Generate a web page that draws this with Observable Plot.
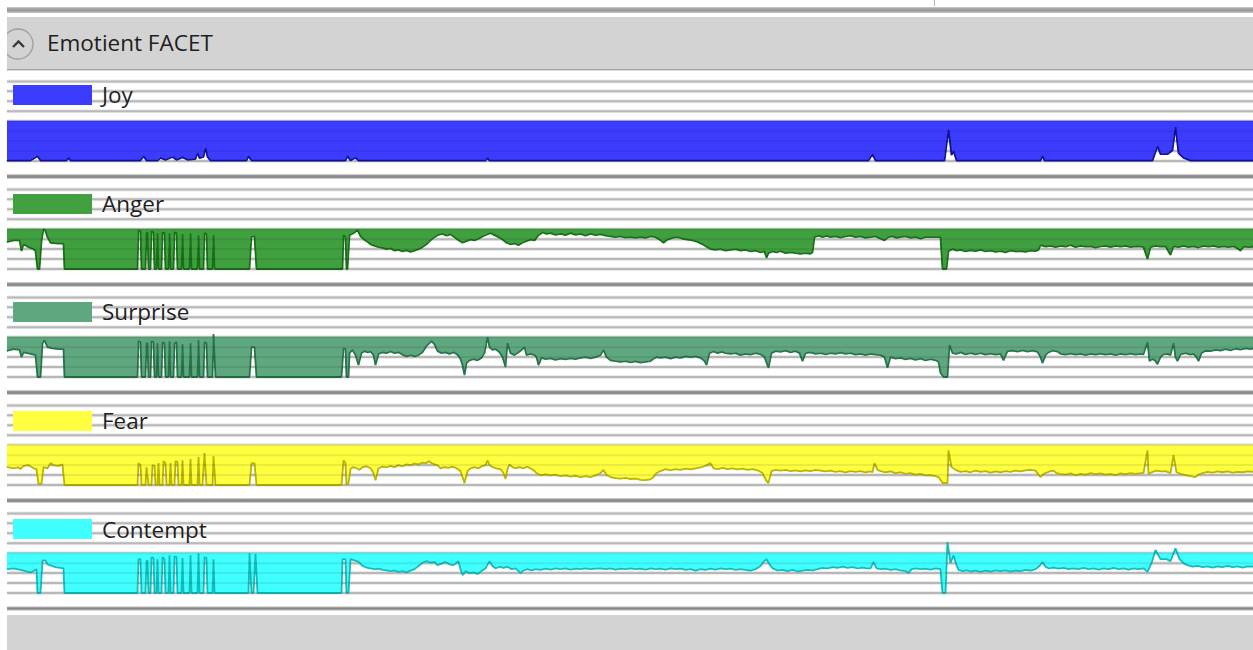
<!DOCTYPE html>
<html><head><meta charset="utf-8">
<script src="https://cdn.jsdelivr.net/npm/d3@7"></script>
<script src="https://cdn.jsdelivr.net/npm/@observablehq/plot@0.6"></script>
<style>
body{margin:0;background:#fff;font-family:"Open Sans","Noto Sans",sans-serif;color:#1e1e1e;}
#page{position:relative;width:1253px;height:650px;overflow:hidden;background:#fff;}
#topline{position:absolute;left:7px;top:7px;width:1246px;height:6px;background:linear-gradient(#cfcfcf,#9c9c9c 35%,#9c9c9c 65%,#cfcfcf);}
#vline{position:absolute;left:934px;top:0;width:1px;height:6px;background:#b8b8b8;}
#header{position:absolute;left:7px;top:17px;width:1246px;height:52px;background:#d3d3d3;z-index:3;overflow:hidden;}
#header svg{position:absolute;left:0;top:0;}
#title{position:absolute;left:40px;top:15.3px;font-size:22.5px;line-height:1;white-space:nowrap;color:#1e1e1e;}
#chart{position:absolute;left:7px;top:66px;}
#legend{position:absolute;left:0;top:0;z-index:2;}
.sw{position:absolute;left:13px;width:79px;height:20px;}
.lb{position:absolute;left:102px;font-size:22.5px;line-height:1;white-space:nowrap;color:#1e1e1e;}
#footer{position:absolute;left:7px;top:615px;width:1246px;height:35px;background:#d3d3d3;}
</style></head>
<body><div id="page">
<div id="vline"></div>
<div id="topline"></div>
<div id="header">
<svg width="60" height="52"><circle cx="11" cy="27" r="15" fill="none" stroke="#9e9e9e" stroke-width="1.3"/><polyline points="6,30 11.5,24.5 17,30" fill="none" stroke="#3a3a3a" stroke-width="2.4"/></svg>
<div id="title">Emotient FACET</div>
</div>
<div id="chart"></div>
<div id="legend"></div>
<div id="footer"></div>
</div>
<script>
// ---- data ----
const emotions = ["Joy", "Anger", "Surprise", "Fear", "Contempt"];
const fillColors = ["#3c3cff", "#40a040", "#5fa77e", "#ffff40", "#40ffff"];
const lineColors = ["#12129c", "#197019", "#27744a", "#b9b500", "#12bcbc"];
const timeDomain = [7, 1253];
const valueDomain = [-0.39, 2.325];
const gridLevels = [0, 0.25, 0.5, 0.75, 1, 1.25, 1.5, 1.75, 2];
const bandTop = 1;

const joy = [[7,0.01],[30,0.01],[37,0.12],[40,0.01],[66,0.01],[68,0.08],[70,0.01],[140,0.01],[143,0.12],[146,0.01],[157,0.01],[160,0.08],[165,0.03],[172,0.1],[176,0.03],[182,0.09],[187,0.03],[195,0.05],[197,0.2],[199,0.07],[203,0.1],[205,0.33],[207,0.1],[210,0.01],[246,0.01],[248,0.12],[251,0.01],[345,0.01],[347,0.12],[350,0.01],[355,0.08],[358,0.01],[485,0.01],[487,0.07],[489,0.01],[868,0.01],[872,0.17],[875,0.01],[944,0.01],[948,0.78],[951,0.15],[953,0.25],[956,0.01],[1040,0.01],[1042,0.12],[1044,0.01],[1152,0.01],[1157,0.37],[1160,0.17],[1167,0.17],[1172,0.27],[1175,0.85],[1178,0.2],[1183,0.08],[1187,0.04],[1190,0.01],[1253,0.01]];

const anger = [[7,0.68],[13,0.72],[19,0.72],[21,0.45],[23,0.62],[28,0.55],[33,0.5],[35,0.45],[37,0],[39,0],[41,0.7],[43,1.0],[45,0.95],[47,0.8],[50,0.66],[58,0.64],[63,0.64],[64,0],[137,0],[138,0.97],[140,0.95],[141,0],[145,0],[146,0.9],[147,0.92],[148,0],[150,0],[151,0.95],[153,0.92],[154,0],[156,0],[157,0.9],[158,0],[161,0],[162,0.92],[164,0.9],[165,0],[168,0],[169,0.9],[170,0],[173,0],[174,0.92],[176,0.9],[177,0],[181,0],[182,0.88],[183,0],[189,0],[190,0.9],[191,0],[197,0],[198,0.85],[199,0],[203,0],[204,0.9],[206,0.88],[207,0],[212,0],[213,0.85],[214,0],[249,0],[251,0.82],[254,0.82],[256,0],[342,0],[343,0.85],[345,0.8],[346,0],[347,0],
[349,0.85],[353,0.9],[357,0.98],[360,0.82],[363,0.75],[366,0.7],[370,0.62],[374,0.58],[378,0.55],[382,0.53],[386,0.5],[390,0.52],[394,0.46],[398,0.48],[402,0.44],[406,0.47],[410,0.43],[414,0.46],[418,0.5],[422,0.55],[426,0.62],[430,0.72],[434,0.8],[438,0.86],[442,0.88],[446,0.84],[450,0.87],[454,0.8],[458,0.72],[462,0.66],[466,0.7],[470,0.74],[474,0.72],[478,0.76],[482,0.82],[486,0.86],[490,0.9],[494,0.85],[498,0.8],[502,0.74],[506,0.66],[510,0.62],[514,0.64],[518,0.6],[522,0.66],[526,0.7],[530,0.74],[534,0.72],[538,0.85],[542,0.92],[546,0.88],[550,0.9],[555,0.86],[560,0.88],[565,0.85],[570,0.9],[575,0.86],[580,0.88],[585,0.84],[590,0.88],[595,0.85],[600,0.87],[605,0.84],[610,0.82],[615,0.8],[620,0.82],[625,0.79],[630,0.8],[635,0.78],[640,0.8],[645,0.78],[650,0.82],[655,0.8],[660,0.72],[663,0.66],[667,0.74],[672,0.78],[677,0.8],[682,0.76],[687,0.74],[692,0.72],[697,0.68],[702,0.62],[706,0.56],[710,0.5],[715,0.48],[720,0.5],[725,0.46],[730,0.48],[735,0.5],[740,0.46],[745,0.48],[750,0.44],[755,0.46],[760,0.42],[764,0.44],[766,0.28],[768,0.4],[772,0.44],[776,0.42],[780,0.45],[785,0.4],[790,0.42],[795,0.4],[800,0.38],[805,0.4],[810,0.38],[812,0.42],[814,0.8],[818,0.84],[822,0.8],[826,0.83],[830,0.8],[835,0.82],[840,0.79],[845,0.82],[850,0.84],[855,0.8],[860,0.82],[865,0.78],[870,0.8],[875,0.82],[880,0.76],[884,0.72],[888,0.8],[892,0.82],[896,0.78],[900,0.8],[905,0.82],[910,0.78],[915,0.8],[920,0.76],[925,0.8],[930,0.8],[935,0.8],[940,0.8],[942,0],[946,0],[948,0.45],[952,0.5],[956,0.46],[960,0.48],[965,0.44],[970,0.47],[975,0.45],[980,0.48],[985,0.44],[990,0.46],[995,0.43],[1000,0.45],[1005,0.42],[1010,0.46],[1015,0.44],[1020,0.45],[1025,0.43],[1030,0.46],[1035,0.45],[1038,0.48],[1040,0.6],[1045,0.56],[1050,0.58],[1055,0.55],[1060,0.58],[1065,0.56],[1070,0.6],[1075,0.55],[1080,0.58],[1085,0.56],[1090,0.57],[1095,0.54],[1100,0.57],[1105,0.58],[1110,0.55],[1115,0.58],[1120,0.56],[1125,0.58],[1130,0.55],[1135,0.57],[1140,0.56],[1143,0.55],[1147,0.25],[1150,0.55],[1155,0.58],[1160,0.56],[1165,0.57],[1170,0.35],[1173,0.57],[1178,0.55],[1183,0.58],[1188,0.55],[1193,0.57],[1198,0.54],[1203,0.58],[1208,0.56],[1213,0.58],[1218,0.55],[1223,0.57],[1228,0.55],[1233,0.57],[1238,0.5],[1240,0.46],[1243,0.56],[1248,0.55],[1253,0.56]];

const surprise = [[7,0.66],[13,0.7],[19,0.68],[21,0.5],[23,0.62],[30,0.58],[35,0.55],[37,0],[40,0],[42,0.85],[44,0.92],[47,0.75],[52,0.72],[58,0.7],[63,0.7],[64,0],[137,0],[138,0.9],[140,0.88],[141,0],[145,0],[146,0.85],[147,0.85],[148,0],[150,0],[151,0.9],[153,0.88],[154,0],[156,0],[157,0.85],[158,0],[161,0],[162,0.88],[164,0.85],[165,0],[168,0],[169,0.9],[170,0],[173,0],[174,0.85],[176,0.88],[177,0],[181,0],[182,0.82],[183,0],[189,0],[190,0.85],[191,0],[197,0],[198,0.92],[199,0],[203,0],[204,0.88],[206,0.85],[207,0],[212,0],[213,1.08],[215,0],[249,0],[251,0.75],[254,0.75],[256,0],[341,0],[343,0.72],[345,0.7],[346,0],[348,0],
[349,0.6],[352,0.68],[355,0.55],[358,0.3],[361,0.6],[364,0.65],[367,0.62],[370,0.64],[373,0.55],[375,0.3],[378,0.58],[382,0.62],[386,0.6],[390,0.64],[394,0.6],[398,0.62],[402,0.56],[406,0.52],[410,0.55],[414,0.52],[418,0.55],[422,0.62],[426,0.78],[429,0.85],[431,0.9],[434,0.82],[437,0.65],[441,0.6],[445,0.62],[449,0.58],[453,0.62],[457,0.56],[460,0.45],[462,0.3],[464,0.05],[466,0.35],[469,0.42],[473,0.45],[477,0.42],[481,0.48],[484,0.6],[487,1.0],[489,0.75],[492,0.68],[495,0.7],[499,0.62],[502,0.5],[505,0.25],[507,0.85],[510,0.6],[514,0.55],[518,0.62],[521,0.68],[524,0.75],[526,0.55],[530,0.58],[534,0.55],[536,0.5],[538,0.3],[541,0.48],[545,0.45],[550,0.47],[555,0.43],[560,0.46],[565,0.44],[570,0.47],[575,0.45],[580,0.48],[585,0.5],[590,0.47],[595,0.5],[600,0.55],[603,0.68],[606,0.5],[610,0.42],[615,0.4],[620,0.38],[625,0.4],[630,0.37],[635,0.39],[640,0.36],[645,0.38],[650,0.4],[653,0.46],[656,0.5],[660,0.48],[665,0.5],[670,0.46],[675,0.5],[680,0.48],[685,0.52],[690,0.5],[695,0.52],[700,0.48],[704,0.4],[706,0.3],[709,0.6],[713,0.64],[717,0.6],[721,0.63],[725,0.6],[730,0.58],[735,0.6],[740,0.55],[745,0.58],[750,0.56],[755,0.6],[760,0.57],[764,0.5],[768,0.23],[771,0.6],[775,0.65],[780,0.63],[785,0.66],[790,0.62],[795,0.65],[799,0.6],[802,0.4],[805,0.6],[810,0.62],[815,0.58],[820,0.6],[825,0.57],[830,0.6],[835,0.58],[840,0.61],[845,0.58],[850,0.6],[855,0.56],[860,0.58],[865,0.55],[870,0.58],[875,0.56],[880,0.55],[884,0.5],[887,0.23],[890,0.5],[895,0.46],[900,0.48],[905,0.44],[910,0.47],[915,0.43],[920,0.46],[925,0.42],[930,0.45],[935,0.42],[938,0.38],[940,0.1],[943,0],[947,0],[949,0.8],[952,0.6],[956,0.58],[960,0.62],[965,0.57],[970,0.6],[975,0.57],[980,0.6],[985,0.56],[990,0.59],[995,0.56],[1000,0.58],[1003,0.42],[1007,0.65],[1012,0.66],[1017,0.64],[1022,0.67],[1027,0.64],[1032,0.66],[1037,0.63],[1040,0.5],[1042,0.35],[1045,0.55],[1048,0.62],[1052,0.66],[1057,0.64],[1060,0.58],[1065,0.56],[1070,0.59],[1075,0.56],[1080,0.58],[1085,0.55],[1090,0.58],[1095,0.56],[1100,0.59],[1105,0.56],[1110,0.58],[1115,0.55],[1120,0.58],[1125,0.56],[1130,0.59],[1135,0.56],[1140,0.58],[1143,0.57],[1147,0.88],[1149,0.4],[1152,0.45],[1155,0.4],[1157,0.32],[1160,0.5],[1163,0.57],[1167,0.58],[1170,0.55],[1173,0.85],[1175,0.5],[1177,0.4],[1180,0.57],[1185,0.6],[1190,0.56],[1193,0.58],[1196,0.5],[1198,0.4],[1201,0.6],[1205,0.66],[1210,0.65],[1215,0.68],[1220,0.66],[1225,0.7],[1230,0.67],[1235,0.71],[1240,0.69],[1245,0.72],[1250,0.7],[1253,0.72]];

const fear = [[7,0.45],[13,0.42],[18,0.44],[20,0.4],[23,0.48],[28,0.5],[33,0.42],[36,0.4],[38,0.03],[41,0.03],[43,0.45],[47,0.42],[50,0.55],[53,0.5],[58,0.48],[62,0.52],[64,0],[137,0],[138,0.55],[140,0.5],[141,0],[145,0],[146,0.45],[148,0],[151,0],[152,0.5],[154,0.48],[155,0],[157,0],[158,0.55],[159,0],[162,0],[163,0.6],[165,0.55],[166,0],[169,0],[170,0.55],[171,0],[174,0],[175,0.6],[177,0.58],[178,0],[181,0],[182,0.62],[183,0],[189,0],[190,0.65],[191,0],[197,0],[198,0.7],[199,0],[202,0],[204,0.8],[206,0],[212,0],[213,0.72],[215,0],[249,0],[251,0.55],[254,0.55],[256,0],[341,0],[343,0.62],[345,0.55],[346,0],
[348,0.05],[350,0.4],[353,0.45],[356,0.42],[359,0.38],[362,0.45],[366,0.47],[370,0.42],[373,0.3],[375,0.12],[378,0.42],[382,0.46],[386,0.44],[390,0.48],[394,0.45],[398,0.5],[402,0.47],[406,0.52],[410,0.5],[414,0.54],[418,0.52],[422,0.56],[426,0.55],[428,0.6],[431,0.55],[434,0.52],[437,0.5],[440,0.42],[444,0.45],[448,0.43],[452,0.46],[456,0.42],[460,0.35],[464,0.05],[467,0.35],[470,0.42],[474,0.45],[478,0.42],[482,0.48],[485,0.5],[487,0.62],[489,0.5],[492,0.45],[496,0.42],[500,0.4],[503,0.3],[505,0.15],[507,0.4],[509,0.52],[512,0.45],[515,0.42],[519,0.45],[523,0.42],[527,0.46],[531,0.4],[534,0.35],[537,0.28],[541,0.25],[545,0.27],[550,0.24],[555,0.26],[560,0.22],[565,0.24],[570,0.21],[575,0.23],[580,0.2],[585,0.22],[590,0.2],[595,0.24],[600,0.3],[603,0.38],[606,0.25],[610,0.2],[615,0.17],[620,0.16],[625,0.18],[630,0.15],[635,0.16],[640,0.13],[645,0.12],[650,0.14],[653,0.2],[656,0.3],[660,0.35],[665,0.4],[670,0.37],[675,0.4],[680,0.38],[685,0.41],[690,0.39],[695,0.42],[700,0.44],[705,0.48],[710,0.55],[713,0.42],[717,0.4],[722,0.43],[727,0.4],[732,0.42],[737,0.39],[742,0.41],[747,0.38],[752,0.4],[757,0.37],[762,0.3],[766,0.1],[768,0.05],[771,0.35],[775,0.38],[780,0.36],[785,0.38],[790,0.35],[795,0.37],[800,0.34],[805,0.37],[810,0.35],[815,0.38],[820,0.36],[825,0.34],[830,0.36],[835,0.33],[840,0.35],[845,0.32],[850,0.35],[855,0.33],[860,0.35],[865,0.32],[870,0.34],[872,0.32],[874,0.55],[877,0.38],[880,0.35],[885,0.32],[890,0.34],[895,0.3],[900,0.32],[905,0.28],[910,0.3],[915,0.26],[920,0.28],[925,0.24],[930,0.25],[935,0.22],[938,0.2],[942,0.05],[947,0.05],[948,0.87],[951,0.45],[955,0.38],[960,0.33],[965,0.35],[970,0.32],[975,0.36],[980,0.33],[985,0.35],[990,0.31],[995,0.34],[1000,0.32],[1005,0.35],[1010,0.33],[1015,0.36],[1020,0.34],[1025,0.37],[1030,0.38],[1035,0.36],[1040,0.2],[1043,0.28],[1047,0.32],[1050,0.35],[1053,0.36],[1056,0.3],[1060,0.28],[1065,0.26],[1070,0.29],[1075,0.25],[1080,0.28],[1085,0.26],[1090,0.3],[1095,0.27],[1100,0.29],[1105,0.26],[1110,0.28],[1115,0.25],[1120,0.29],[1125,0.27],[1130,0.3],[1135,0.28],[1140,0.3],[1143,0.3],[1147,0.87],[1148,0.28],[1152,0.33],[1156,0.36],[1160,0.34],[1165,0.35],[1170,0.3],[1173,0.75],[1176,0.32],[1180,0.28],[1185,0.25],[1190,0.22],[1195,0.2],[1198,0.26],[1202,0.3],[1207,0.33],[1212,0.31],[1217,0.34],[1222,0.32],[1227,0.34],[1232,0.31],[1237,0.33],[1242,0.32],[1247,0.34],[1253,0.33]];

const contempt = [[7,0.6],[13,0.62],[20,0.58],[25,0.55],[30,0.52],[33,0.55],[36,0.6],[37,0],[40,0],[42,0.82],[45,0.82],[47,0.72],[55,0.65],[63,0.62],[64,0],[137,0],[138,0.85],[140,0.85],[141,0],[145,0],[146,0.8],[147,0.82],[148,0],[150,0],[151,0.9],[153,0.88],[154,0],[156,0],[157,0.85],[158,0],[161,0],[162,0.9],[164,0.85],[165,0],[168,0],[169,0.95],[170,0],[173,0],[174,0.92],[176,0.9],[177,0],[181,0],[182,0.88],[183,0],[189,0],[190,0.95],[191,0],[197,0],[198,1.0],[199,0],[203,0],[204,0.9],[206,0.88],[207,0],[212,0],[213,0.85],[214,0],[248,0],[249,1.0],[251,0],[253,0],[255,0.98],[257,0],[341,0],[342,0.85],[345,0.85],[346,0],[348,0],
[350,0.85],[354,0.82],[358,0.78],[362,0.68],[366,0.64],[370,0.62],[374,0.6],[378,0.61],[382,0.58],[386,0.57],[390,0.55],[394,0.56],[398,0.53],[402,0.55],[406,0.52],[410,0.56],[414,0.6],[418,0.68],[422,0.76],[426,0.8],[430,0.76],[434,0.78],[437,0.7],[441,0.74],[445,0.78],[449,0.72],[453,0.7],[456,0.76],[458,0.8],[460,0.6],[462,0.45],[465,0.55],[469,0.5],[473,0.52],[477,0.48],[481,0.55],[485,0.62],[489,0.8],[492,0.68],[495,0.62],[499,0.66],[503,0.63],[507,0.66],[511,0.6],[515,0.62],[518,0.55],[520,0.5],[523,0.57],[527,0.6],[531,0.57],[535,0.6],[540,0.58],[545,0.61],[550,0.59],[555,0.62],[560,0.6],[565,0.62],[570,0.59],[575,0.61],[580,0.6],[585,0.62],[590,0.6],[595,0.61],[600,0.62],[605,0.6],[610,0.62],[615,0.59],[620,0.61],[625,0.6],[630,0.62],[635,0.6],[640,0.61],[645,0.59],[650,0.62],[655,0.6],[660,0.61],[665,0.59],[670,0.62],[675,0.6],[680,0.61],[685,0.58],[690,0.6],[695,0.56],[700,0.6],[705,0.58],[710,0.61],[715,0.59],[720,0.62],[725,0.6],[730,0.61],[735,0.58],[740,0.6],[745,0.58],[750,0.56],[755,0.6],[760,0.68],[763,0.78],[766,0.85],[769,0.72],[772,0.62],[777,0.57],[782,0.58],[787,0.55],[792,0.58],[797,0.54],[802,0.56],[807,0.58],[812,0.57],[817,0.6],[822,0.63],[827,0.62],[832,0.65],[837,0.63],[842,0.66],[847,0.63],[852,0.65],[857,0.62],[862,0.64],[867,0.62],[870,0.62],[873,0.78],[876,0.62],[880,0.6],[885,0.61],[890,0.58],[895,0.6],[900,0.57],[905,0.55],[908,0.5],[911,0.6],[915,0.62],[920,0.6],[925,0.61],[930,0.59],[935,0.62],[940,0.6],[942,0],[945,0],[947,1.28],[950,0.75],[953,0.95],[956,0.7],[958,0.58],[962,0.55],[966,0.57],[970,0.54],[975,0.56],[980,0.53],[985,0.56],[990,0.54],[995,0.57],[1000,0.55],[1005,0.57],[1010,0.54],[1015,0.56],[1020,0.55],[1025,0.58],[1030,0.56],[1035,0.6],[1039,0.68],[1042,0.78],[1045,0.66],[1048,0.62],[1053,0.64],[1058,0.61],[1063,0.63],[1068,0.6],[1073,0.62],[1078,0.6],[1083,0.63],[1088,0.6],[1093,0.62],[1098,0.59],[1103,0.62],[1108,0.6],[1113,0.63],[1118,0.6],[1123,0.62],[1128,0.59],[1133,0.62],[1138,0.6],[1143,0.62],[1147,0.53],[1151,0.75],[1155,1.08],[1160,0.85],[1166,0.85],[1170,0.8],[1175,1.12],[1179,0.85],[1183,0.75],[1187,0.7],[1192,0.66],[1197,0.68],[1202,0.65],[1207,0.67],[1212,0.64],[1217,0.67],[1222,0.65],[1227,0.68],[1232,0.65],[1237,0.67],[1242,0.64],[1247,0.67],[1253,0.66]];

const seriesList = [joy, anger, surprise, fear, contempt];

// ---- table ----
const rows = [];
emotions.forEach((e, i) => seriesList[i].forEach(([t, v]) => rows.push({emotion: e, t, v})));

const panelEdges = valueDomain.slice();
const marks = [
  Plot.ruleY(gridLevels, {stroke: "#ebebeb", strokeWidth: 4}),
  Plot.ruleY(gridLevels, {stroke: "#c8c8c8", strokeWidth: 2})
];
emotions.forEach((e, i) => {
  marks.push(Plot.areaY(rows, {filter: d => d.emotion === e, x: "t", y1: bandTop, y2: "v", fill: fillColors[i], curve: "linear"}));
  marks.push(Plot.lineY(rows, {filter: d => d.emotion === e, x: "t", y: "v", stroke: lineColors[i], strokeWidth: 1.8, strokeLinejoin: "miter"}));
});
marks.push(Plot.ruleY(gridLevels, {stroke: "#000", strokeOpacity: 0.08, strokeWidth: 2}));
marks.push(Plot.ruleY(panelEdges, {stroke: "#b8b8b8", strokeWidth: 4}));
marks.push(Plot.ruleY(panelEdges, {stroke: "#888888", strokeWidth: 2}));

const W = 1246, H = 546, MB = 3;
const chart = Plot.plot({
  width: W, height: H,
  marginTop: 0, marginBottom: MB, marginLeft: 0, marginRight: 0,
  style: {background: "transparent", overflow: "visible"},
  x: {domain: timeDomain, axis: null},
  y: {domain: valueDomain, axis: null},
  fy: {domain: emotions, padding: 0, axis: null},
  facet: {data: rows, y: "emotion"},
  marks
});
document.getElementById("chart").appendChild(chart);

// ---- legend (HTML overlay) ----
const chartTop = 66;
const panelH = (H - MB) / emotions.length;
const legend = document.getElementById("legend");
emotions.forEach((e, i) => {
  const S = chartTop + i * panelH;
  const sw = document.createElement("div");
  sw.className = "sw"; sw.style.top = (S + 19) + "px"; sw.style.background = fillColors[i];
  const lb = document.createElement("div");
  lb.className = "lb"; lb.style.top = (S + 18.2) + "px"; lb.textContent = e;
  legend.appendChild(sw); legend.appendChild(lb);
});
</script>
</body></html>
